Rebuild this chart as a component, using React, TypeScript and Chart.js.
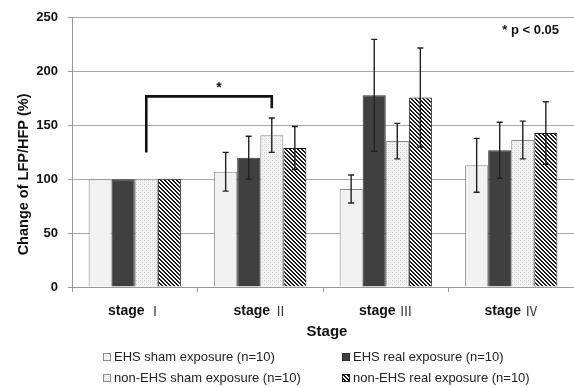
import { useEffect, useRef } from "react";
import { Chart, registerables } from "chart.js";

Chart.register(...registerables);

const categories = ["stage Ⅰ", "stage Ⅱ", "stage Ⅲ", "stage Ⅳ"];
const seriesLabels = [
  "EHS sham exposure (n=10)",
  "EHS real exposure (n=10)",
  "non-EHS sham exposure (n=10)",
  "non-EHS real exposure (n=10)",
];
const ehsSham = [100, 107, 91, 113];
const ehsShamErr = [0, 18, 13, 25];
const ehsReal = [100, 120, 178, 127];
const ehsRealErr = [0, 20, 52, 26];
const nonEhsSham = [100.5, 141, 135.5, 136.5];
const nonEhsShamErr = [0, 16, 16.5, 17.5];
const nonEhsReal = [100.5, 129, 176, 143];
const nonEhsRealErr = [0, 20, 46, 29];
const yMin = 0;
const yMax = 250;
const yStep = 50;
const yTitle = "Change of LFP/HFP (%)";
const xTitle = "Stage";
const pNote = "* p < 0.05";
// significance bracket: between series 2 at stage I and stage II (data units)
const bracketFrom = [0, 2];
const bracketTo = [1, 2];
const bracketLeftY = 125;
const bracketTopY = 177;
const bracketRightY = 166;

function makePattern(kind: string): CanvasPattern | string {
  const c = document.createElement("canvas");
  const s = 4;
  c.width = s;
  c.height = s;
  const g = c.getContext("2d")!;
  if (kind === "dots") {
    g.fillStyle = "#f3f3f3";
    g.fillRect(0, 0, s, s);
    g.fillStyle = "#cfcfcf";
    g.fillRect(0, 0, 1, 1);
    g.fillRect(2, 2, 1, 1);
    g.fillStyle = "#e2e2e2";
    g.fillRect(2, 0, 1, 1);
    g.fillRect(0, 2, 1, 1);
  } else {
    g.fillStyle = "#ffffff";
    g.fillRect(0, 0, s, s);
    g.fillStyle = "#1a1a1a";
    for (let x = 0; x < s; x++) {
      for (let y = 0; y < s; y++) {
        const d = (((x - y) % s) + s) % s;
        if (d === 0 || d === 1) g.fillRect(x, y, 1, 1);
      }
    }
  }
  const p = g.createPattern(c, "repeat");
  return p || "#888";
}

export default function App() {
  const ref = useRef<HTMLCanvasElement | null>(null);

  useEffect(() => {
    document.body.style.margin = "0";
    const canvas = ref.current!;
    const dots = makePattern("dots");
    const hatch = makePattern("hatch");
    const fills: (string | CanvasPattern)[] = ["#f2f2f2", "#404040", dots, hatch];
    const borders = ["#8a8a8a", "#2e2e2e", "#8a8a8a", "#1a1a1a"];
    const values = [ehsSham, ehsReal, nonEhsSham, nonEhsReal];
    const errs = [ehsShamErr, ehsRealErr, nonEhsShamErr, nonEhsRealErr];

    const annot = {
      id: "annot",
      afterDatasetsDraw(chart: any) {
        const ctx = chart.ctx as CanvasRenderingContext2D;
        const y = chart.scales.y;
        const x = chart.scales.x;
        // error bars
        ctx.save();
        ctx.strokeStyle = "#222";
        ctx.lineWidth = 1.4;
        values.forEach((vals, di) => {
          const meta = chart.getDatasetMeta(di);
          vals.forEach((v, i) => {
            const e = errs[di][i];
            if (!e) return;
            const cx = meta.data[i].x;
            const yt = y.getPixelForValue(v + e);
            const yb = y.getPixelForValue(v - e);
            ctx.beginPath();
            ctx.moveTo(cx, yt);
            ctx.lineTo(cx, yb);
            ctx.moveTo(cx - 3, yt);
            ctx.lineTo(cx + 3, yt);
            ctx.moveTo(cx - 3, yb);
            ctx.lineTo(cx + 3, yb);
            ctx.stroke();
          });
        });
        // bracket
        const xa = chart.getDatasetMeta(bracketFrom[1]).data[bracketFrom[0]].x;
        const xb = chart.getDatasetMeta(bracketTo[1]).data[bracketTo[0]].x;
        ctx.strokeStyle = "#111";
        ctx.lineWidth = 2.6;
        ctx.lineJoin = "miter";
        ctx.beginPath();
        ctx.moveTo(xa, y.getPixelForValue(bracketLeftY));
        ctx.lineTo(xa, y.getPixelForValue(bracketTopY));
        ctx.lineTo(xb, y.getPixelForValue(bracketTopY));
        ctx.lineTo(xb, y.getPixelForValue(bracketRightY));
        ctx.stroke();
        ctx.fillStyle = "#111";
        ctx.font = "bold 14px 'Liberation Sans', Arial, sans-serif";
        ctx.textAlign = "center";
        ctx.textBaseline = "middle";
        ctx.fillText("*", (xa + xb) / 2 + 10, y.getPixelForValue(bracketTopY) - 8);
        // p note
        ctx.textAlign = "right";
        ctx.font = "bold 13px 'Liberation Sans', Arial, sans-serif";
        ctx.fillText(pNote, chart.chartArea.right - 15, 30);
        // y title
        ctx.save();
        ctx.translate(24, (chart.chartArea.top + chart.chartArea.bottom) / 2 + 22);
        ctx.rotate(-Math.PI / 2);
        ctx.textAlign = "center";
        ctx.font = "bold 14.5px 'Liberation Sans', Arial, sans-serif";
        ctx.fillStyle = "#111";
        ctx.fillText(yTitle, 0, 0);
        ctx.restore();
        // x labels
        const gap = 0;
        categories.forEach((lab, i) => {
          const cx = x.getPixelForValue(i);
          const sp = lab.indexOf(" ");
          const a = lab.slice(0, sp + 1);
          const b = lab.slice(sp + 1);
          const fa = "bold 14px 'Liberation Sans', Arial, sans-serif";
          const fb = "13px 'Noto Sans CJK JP', 'DejaVu Sans', sans-serif";
          ctx.font = fa;
          const wa = ctx.measureText(a).width;
          ctx.font = fb;
          const wb = ctx.measureText(b).width;
          const start = cx - (wa + wb + gap) / 2;
          ctx.textAlign = "left";
          ctx.fillStyle = "#111";
          ctx.font = fa;
          ctx.fillText(a, start, 311);
          ctx.fillStyle = "#333";
          ctx.font = fb;
          ctx.fillText(b, start + wa + gap, 311);
        });
        // x title
        ctx.textAlign = "center";
        ctx.fillStyle = "#111";
        ctx.font = "bold 15px 'Liberation Sans', Arial, sans-serif";
        ctx.fillText(xTitle, 327, 332);
        // legend
        const pos = [
          [103, 357],
          [342, 357],
          [103, 378],
          [342, 378],
        ];
        ctx.font = "13px 'Liberation Sans', Arial, sans-serif";
        ctx.textAlign = "left";
        seriesLabels.forEach((lab, i) => {
          const [lx, ly] = pos[i];
          ctx.fillStyle = fills[i] as any;
          ctx.fillRect(lx, ly - 4, 8, 8);
          ctx.strokeStyle = borders[i];
          ctx.lineWidth = 1;
          ctx.strokeRect(lx + 0.5, ly - 3.5, 7, 7);
          ctx.fillStyle = "#222";
          ctx.fillText(lab, lx + 11, ly + 0.5);
        });
        ctx.restore();
      },
    };

    const chart = new Chart(canvas, {
      type: "bar",
      data: {
        labels: categories,
        datasets: values.map((vals, i) => ({
          label: seriesLabels[i],
          data: vals,
          backgroundColor: fills[i] as any,
          borderColor: borders[i],
          borderWidth: 1,
          barPercentage: 1,
          categoryPercentage: 0.735,
        })),
      },
      options: {
        animation: false,
        responsive: false,
        maintainAspectRatio: false,
        layout: { padding: { top: 17, right: 0, bottom: 0, left: 0 } },
        plugins: {
          legend: { display: false },
          tooltip: { enabled: false },
          title: { display: false },
        },
        scales: {
          x: {
            offset: true,
            grid: {
              display: true,
              drawOnChartArea: false,
              drawTicks: true,
              tickLength: 5,
              offset: true,
              color: "#999",
            },
            border: { display: true, color: "#999", width: 1 },
            ticks: { display: false },
            afterFit: (s: any) => {
              s.height = 100;
            },
          },
          y: {
            min: yMin,
            max: yMax,
            ticks: {
              stepSize: yStep,
              padding: 10,
              color: "#111",
              font: { family: "'Liberation Sans', Arial, sans-serif", size: 13, weight: "bold" },
            },
            grid: {
              color: "#a8a8a8",
              lineWidth: 1,
              drawTicks: true,
              tickLength: 4,
              tickColor: "#999",
            },
            border: { display: true, color: "#999", width: 1 },
            afterFit: (s: any) => {
              s.width = 72;
            },
          },
        },
      },
      plugins: [annot],
    });
    return () => chart.destroy();
  }, []);

  return (
    <canvas
      ref={ref}
      width={574}
      height={387}
      style={{ display: "block", width: 574, height: 387 }}
    />
  );
}
